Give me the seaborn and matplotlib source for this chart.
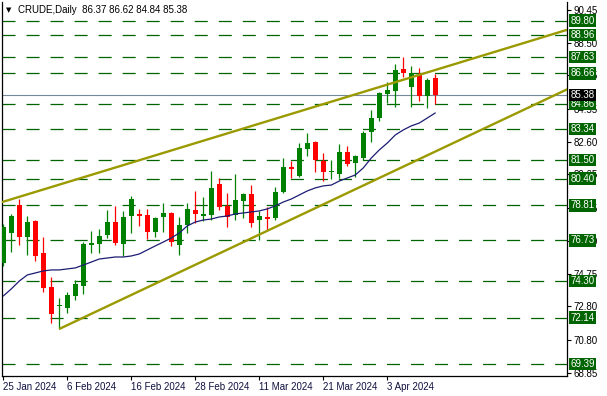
import numpy as np
import pandas as pd
import seaborn as sns
import matplotlib
matplotlib.use("Agg")
import matplotlib.pyplot as plt
import matplotlib.transforms as mtransforms

# daily OHLC bars, 25 Jan 2024 .. 11 Apr 2024
opens = [75.38, 77.17, 78.83, 76.93, 77.88, 75.98, 73.96, 72.83, 72.71, 73.42,
         74.02, 76.45, 76.51, 77.05, 77.82, 76.51, 78.18, 78.30, 78.24, 77.23,
         78.12, 78.36, 76.45, 77.64, 78.54, 78.18, 78.24, 80.08, 78.78, 78.24,
         79.07, 79.49, 77.94, 78.12, 78.06, 79.61, 81.10, 80.56, 82.17, 82.58,
         81.45, 80.80, 80.68, 81.99, 81.33, 81.63, 83.18, 84.01, 85.44, 85.62,
         86.93, 85.86, 86.57, 85.32, 86.37]
highs = [77.70, 78.30, 79.19, 78.18, 77.94, 76.93, 74.55, 73.30, 73.66, 74.37,
         76.63, 77.29, 77.41, 78.54, 78.78, 78.48, 79.37, 78.60, 78.60, 78.12,
         78.95, 78.42, 78.12, 78.95, 79.67, 79.31, 80.86, 80.44, 79.55, 80.68,
         79.55, 80.02, 78.48, 78.72, 79.91, 81.63, 81.45, 82.52, 83.12, 82.64,
         81.93, 81.51, 82.46, 82.35, 81.81, 83.24, 84.49, 85.56, 86.15, 87.22,
         87.64, 87.11, 86.99, 86.39, 86.62]
lows = [75.21, 76.04, 76.45, 75.86, 75.50, 73.66, 71.81, 71.46, 72.41, 73.18,
        73.54, 75.98, 75.98, 76.87, 76.45, 75.80, 77.17, 77.59, 76.81, 76.93,
        77.23, 76.40, 75.86, 77.17, 77.76, 77.88, 77.94, 78.54, 77.53, 77.94,
        78.06, 77.53, 76.75, 77.35, 77.94, 79.55, 80.44, 80.50, 81.75, 80.80,
        80.26, 80.38, 80.44, 81.16, 80.50, 81.51, 82.58, 83.83, 84.90, 84.67,
        86.45, 84.67, 85.02, 84.61, 84.84]
closes = [77.53, 78.18, 76.93, 77.82, 75.80, 73.90, 72.35, 72.88, 73.48, 74.13,
          76.51, 76.57, 76.99, 77.82, 76.57, 78.12, 79.19, 78.18, 77.23, 78.06,
          78.36, 76.63, 77.64, 78.60, 78.30, 78.30, 79.85, 78.72, 78.12, 79.13,
          79.49, 77.76, 78.18, 78.00, 79.61, 81.10, 80.98, 82.23, 82.52, 81.51,
          80.80, 80.86, 81.99, 81.27, 81.75, 83.12, 84.01, 85.50, 85.68, 86.87,
          86.69, 86.69, 85.32, 86.27, 85.38]
# moving average line
ma_values = [73.42, 73.84, 74.31, 74.67, 74.79, 74.91, 74.97, 74.97, 75.03, 75.09,
             75.26, 75.44, 75.62, 75.68, 75.74, 75.74, 75.80, 75.92, 76.16, 76.40,
             76.63, 76.87, 77.17, 77.59, 77.82, 77.94, 78.00, 78.12, 78.18, 78.30,
             78.36, 78.42, 78.48, 78.60, 78.78, 79.01, 79.19, 79.43, 79.67, 79.85,
             79.97, 80.02, 80.26, 80.44, 80.62, 81.04, 81.63, 82.11, 82.52, 83.00,
             83.30, 83.54, 83.71, 84.01, 84.31]

levels = [89.80, 88.96, 87.63, 86.66, 84.86, 83.34, 81.50, 80.40, 78.81,
          76.73, 74.30, 72.14, 69.39]
last_price = 85.38
price_ticks = [90.45, 88.50, 86.55, 84.55, 82.60, 80.65, 78.65, 76.70,
               74.75, 72.80, 70.80, 68.85]
tick_bars = [0, 8, 16, 24, 32, 40, 48]
tick_labels = ["25 Jan 2024", "6 Feb 2024", "16 Feb 2024", "28 Feb 2024",
               "11 Mar 2024", "21 Mar 2024", "3 Apr 2024"]
# channel trend lines (bar index, price)
upper_bars = [-0.2, 70.5]
upper_prices = [79.00, 89.26]
lower_bars = [7, 70.5]
lower_prices = [71.46, 85.72]

GREEN = "#008000"
RED = "#ff0000"
LEVEL = "#006400"
OLIVE = "#9a9a00"

sns.set_style("white")
plt.rcParams["font.family"] = ["Liberation Sans", "DejaVu Sans"]
plt.rcParams["lines.scale_dashes"] = False

df = pd.DataFrame({"open": opens, "high": highs, "low": lows,
                   "close": closes, "ma": ma_values})
df["bar"] = np.arange(len(df))

fig = plt.figure(figsize=(6.07, 3.96), dpi=100)
ax = fig.add_axes([2 / 607, 20 / 396, 565 / 607, 374 / 396])

# horizontal support / resistance levels
for lvl in levels:
    ax.axhline(lvl, color=LEVEL, lw=0.9, linestyle=(0, (9.4, 7.9)), zorder=1)
ax.axhline(last_price, color="#778899", lw=0.8, zorder=1)

# candles
up = df["close"] >= df["open"]
colors = np.where(up, GREEN, RED)
ax.vlines(df["bar"], df["low"], df["high"], colors=colors, lw=0.9, zorder=3)
body_low = df[["open", "close"]].min(axis=1)
body_h = (df["close"] - df["open"]).abs().clip(lower=0.06)
ax.bar(df["bar"], body_h, bottom=body_low, width=0.62, color=colors,
       lw=0, zorder=3)

sns.lineplot(data=df, x="bar", y="ma", color="#1c1c74", lw=0.9, ax=ax, zorder=4)

ax.plot(upper_bars, upper_prices, color=OLIVE, lw=1.7, zorder=5,
        solid_capstyle="butt")
ax.plot(lower_bars, lower_prices, color=OLIVE, lw=1.7, zorder=5,
        solid_capstyle="butt")

ax.set_xlim(-0.16, 70.46)
ax.set_ylim(68.66, 90.91)
ax.set_xlabel("")
ax.set_ylabel("")

ax.yaxis.tick_right()
ax.set_yticks(price_ticks)
ax.set_yticklabels([f"{t:.2f}" for t in price_ticks])
ax.set_xticks(tick_bars)
ax.set_xticklabels(tick_labels, ha="left")
ax.tick_params(axis="y", right=True, left=False, direction="out", length=3,
               width=0.8, pad=2, labelsize=7, colors="black")
ax.tick_params(axis="x", bottom=True, direction="out", length=3, width=0.8,
               pad=1.5, labelsize=7, colors="black")
for lab in ax.get_xticklabels():
    lab.set_color("#101040")

ax.spines["top"].set_visible(False)
for side in ["left", "right", "bottom"]:
    ax.spines[side].set_color("black")
    ax.spines[side].set_linewidth(0.9)

# price labels on the right scale
trans = mtransforms.blended_transform_factory(ax.transAxes, ax.transData)
for lvl in levels:
    ax.text(1.006, lvl, f"{lvl:.2f}", transform=trans, color="white",
            fontsize=7, va="center", ha="left", clip_on=False, zorder=6,
            bbox=dict(boxstyle="square,pad=0.12", fc=LEVEL, ec="none"))
ax.text(1.006, last_price, f"{last_price:.2f}", transform=trans, color="white",
        fontsize=7, va="center", ha="left", clip_on=False, zorder=7,
        bbox=dict(boxstyle="square,pad=0.12", fc="black", ec="none"))

# header
ax.text(0.007, 0.978, "\u25bc", transform=ax.transAxes, fontsize=5,
        va="center", ha="left", color="black", family=["DejaVu Sans"])
header = (f"CRUDE,Daily  {opens[-1]:.2f} {highs[-1]:.2f} "
          f"{lows[-1]:.2f} {closes[-1]:.2f}")
ax.text(0.029, 0.978, header, transform=ax.transAxes, fontsize=7,
        va="center", ha="left", color="black")

fig.savefig("out.png", dpi=100)
